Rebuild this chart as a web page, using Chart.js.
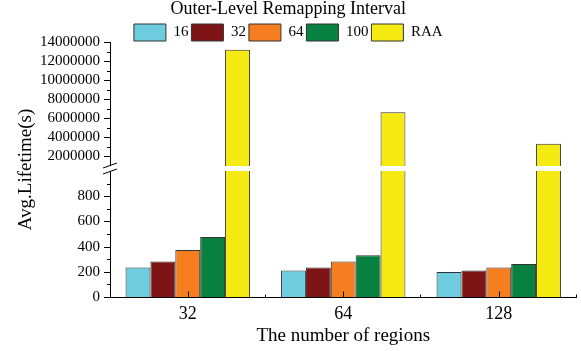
<!DOCTYPE html>
<html>
<head>
<meta charset="utf-8">
<script src="https://cdn.jsdelivr.net/npm/chart.js@4.4.1/dist/chart.umd.min.js"></script>
<style>
  html, body { margin: 0; padding: 0; background: #fff; }
  #wrap { width: 581px; height: 351px; }
</style>
</head>
<body>
<div id="wrap"><canvas id="lifetime-chart"></canvas></div>
<script>
// Data
const regions = ['32', '64', '128'];
const intervals = ['16', '32', '64', '100', 'RAA'];
const interval16 = [234, 210, 199];
const interval32 = [282, 234, 210];
const interval64 = [374, 282, 234];
const interval100 = [477, 332, 262];
const raa = [13200000, 6630000, 3320000];

// Broken y axis: lower and upper segment ranges
const lowRange = [0, 1040];
const highRange = [1000000, 14000000];

const serif = 'Liberation Serif';
const colors = ['#6dcdde', '#7e1416', '#f57f20', '#088040', '#f5eb12'];

// Ticks (inward on x, outward on y), the axis break and the y title
const brokenAxis = {
  id: 'brokenAxis',
  afterDraw(c) {
    const { ctx, chartArea, scales: { x, yLow, yHigh } } = c;
    const axisX = yLow.right;
    const axisY = Math.round(x.top) + 0.5;
    ctx.save();
    ctx.strokeStyle = '#000';
    ctx.lineWidth = 1;
    ctx.beginPath();
    const half = (x.getPixelForValue(1) - x.getPixelForValue(0)) / 2;
    regions.forEach((r, i) => {
      const px = Math.round(x.getPixelForValue(i)) + 0.5;
      ctx.moveTo(px, axisY);
      ctx.lineTo(px, axisY - 6);
      const bx = Math.round(x.getPixelForValue(i) + half) - 0.5;
      ctx.moveTo(bx, axisY);
      ctx.lineTo(bx, axisY - 3);
    });
    [[yLow, 200], [yHigh, 2000000]].forEach(([s, major]) => {
      s.ticks.forEach((t) => {
        const py = Math.round(s.getPixelForValue(t.value)) + 0.5;
        const len = t.value % major === 0 ? 6 : 3;
        ctx.moveTo(axisX - len, py);
        ctx.lineTo(axisX, py);
      });
    });
    ctx.stroke();

    // White gap across the plot at the break
    const gy = yHigh.bottom;
    ctx.fillStyle = '#fff';
    ctx.fillRect(axisX - 8, gy, chartArea.right - axisX + 8, 5);
    // Slashes on the axis
    ctx.beginPath();
    [gy - 0.5, gy + 5.5].forEach((y) => {
      ctx.moveTo(axisX - 7, y + 2.5);
      ctx.lineTo(axisX + 7, y - 2.5);
    });
    ctx.stroke();

    // Y axis title spanning both segments
    ctx.fillStyle = '#000';
    ctx.font = `19px "${serif}"`;
    ctx.textAlign = 'center';
    ctx.textBaseline = 'middle';
    ctx.translate(26, (chartArea.top + chartArea.bottom) / 2);
    ctx.rotate(-Math.PI / 2);
    ctx.fillText('Avg.Lifetime(s)', 0, 0);
    ctx.restore();
  },
};

const series = [interval16, interval32, interval64, interval100, raa];
const datasets = series.map((values, i) => ({
  label: intervals[i],
  // the RAA bars are cut at the top of the lower segment
  data: i === 4 ? values.map((v) => Math.min(v, lowRange[1])) : values,
  backgroundColor: colors[i],
  borderColor: '#333',
  borderWidth: 1,
  yAxisID: 'yLow',
  stack: 's' + i,
  categoryPercentage: 0.8,
  barPercentage: 1,
}));
// Upper part of the RAA bars
datasets.push({
  label: 'RAA upper',
  data: raa,
  backgroundColor: colors[4],
  borderColor: '#333',
  borderWidth: 1,
  yAxisID: 'yHigh',
  stack: 's4',
  categoryPercentage: 0.8,
  barPercentage: 1,
});

const tickFont = { family: serif, size: 15 };

new Chart(document.getElementById('lifetime-chart'), {
  type: 'bar',
  data: { labels: regions, datasets },
  options: {
    responsive: true,
    maintainAspectRatio: false,
    animation: false,
    layout: { padding: { left: 0, right: 4.5, top: 0, bottom: 0 } },
    scales: {
      x: {
        grid: { display: false, drawTicks: false },
        border: { color: '#000', width: 1 },
        ticks: { color: '#000', font: { family: serif, size: 18 }, padding: 6 },
        title: {
          display: true,
          text: 'The number of regions',
          color: '#000',
          font: { family: serif, size: 19 },
          padding: { top: 0, bottom: 4 },
        },
        afterFit: (scale) => { scale.height = 54; },
      },
      yLow: {
        type: 'linear',
        position: 'left',
        stack: 'lifetime',
        stackWeight: 131,
        stacked: false,
        min: lowRange[0],
        max: lowRange[1],
        grid: { display: false, drawTicks: false },
        border: { color: '#000', width: 1 },
        ticks: {
          stepSize: 100,
          autoSkip: false,
          color: '#000',
          font: tickFont,
          padding: 10,
          callback: (v) => (v % 200 === 0 ? String(v) : ''),
        },
        afterBuildTicks: (scale) => { scale.ticks = scale.ticks.filter((t) => t.value <= 900); },
        afterFit: (scale) => { scale.width = 110; },
      },
      yHigh: {
        type: 'linear',
        position: 'left',
        stack: 'lifetime',
        stackWeight: 124,
        stacked: false,
        min: highRange[0],
        max: highRange[1],
        grid: { display: false, drawTicks: false },
        border: { color: '#000', width: 1 },
        ticks: {
          stepSize: 1000000,
          autoSkip: false,
          color: '#000',
          font: tickFont,
          padding: 10,
          callback: (v) => (v % 2000000 === 0 ? String(v) : ''),
        },
        afterBuildTicks: (scale) => { scale.ticks = scale.ticks.filter((t) => t.value >= 2000000); },
        afterFit: (scale) => { scale.width = 110; },
      },
    },
    plugins: {
      title: {
        display: true,
        text: 'Outer-Level Remapping Interval',
        color: '#000',
        font: { family: serif, size: 18, weight: 'normal', lineHeight: 1 },
        padding: { top: 0, bottom: 3 },
      },
      legend: {
        maxHeight: 21,
        labels: {
          color: '#000',
          font: { family: serif, size: 15 },
          boxWidth: 32,
          boxHeight: 17,
          padding: 3,
          filter: (item) => item.datasetIndex < 5,
        },
      },
      tooltip: { enabled: false },
    },
  },
  plugins: [brokenAxis],
});
</script>
</body>
</html>
